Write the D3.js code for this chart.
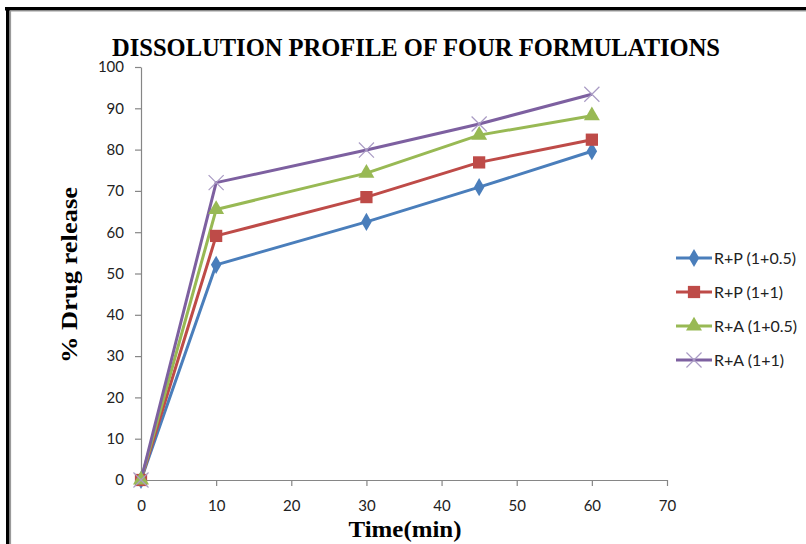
<!DOCTYPE html>
<html>
<head>
<meta charset="utf-8">
<script src="https://cdn.jsdelivr.net/npm/d3@7"></script>
<style>
  body { margin: 0; background: #fff; }
  svg { display: block; }
</style>
</head>
<body>
<div id="chart"></div>
<script>
"use strict";

// data
var times = [0, 10, 30, 45, 60];
var rp05 = [0, 52.1, 62.5, 70.9, 79.6];
var rp1 = [0, 59.1, 68.5, 76.9, 82.4];
var ra05 = [0, 65.5, 74.3, 83.5, 88.2];
var ra1 = [0, 72.0, 79.9, 86.2, 93.4];
var seriesNames = ["R+P (1+0.5)", "R+P (1+1)", "R+A (1+0.5)", "R+A (1+1)"];
var xTicks = [0, 10, 20, 30, 40, 50, 60, 70];
var yTicks = [0, 10, 20, 30, 40, 50, 60, 70, 80, 90, 100];

var colors = ["#4a7ebb", "#be4b48", "#98b954", "#7d60a0"];
var markers = ["diamond", "square", "triangle", "cross"];
var allValues = [rp05, rp1, ra05, ra1];

var series = seriesNames.map(function (name, i) {
        return {
                name: name,
                color: colors[i],
                marker: markers[i],
                points: times.map(function (t, j) { return { t: t, v: allValues[i][j] }; })
        };
});

var W = 806, H = 544;
var margin = { top: 67, left: 141, right: 806 - 667, bottom: 544 - 480 };

var svg = d3.select("#chart")
        .append("svg")
        .attr("width", W)
        .attr("height", H);

// frame (black top/left edge with thin grey inner line)
svg.append("rect").attr("x", 0).attr("y", 0).attr("width", W).attr("height", H).attr("fill", "#fff");
svg.append("rect").attr("x", 5).attr("y", 7).attr("width", W - 5).attr("height", 3.5).attr("fill", "#000");
svg.append("rect").attr("x", 6).attr("y", 7).attr("width", 3.5).attr("height", H - 7).attr("fill", "#000");
svg.append("line").attr("x1", 10.5).attr("x2", W).attr("y1", 11).attr("y2", 11)
        .attr("stroke", "#9a9a9a").attr("stroke-width", 1.2);
svg.append("line").attr("x1", 10.5).attr("x2", 10.5).attr("y1", 11).attr("y2", H)
        .attr("stroke", "#9a9a9a").attr("stroke-width", 1.2);

var x = d3.scaleLinear().domain([0, 70]).range([margin.left, W - margin.right]);
var y = d3.scaleLinear().domain([0, 100]).range([H - margin.bottom, margin.top]);

// title
svg.append("text")
        .attr("x", 112).attr("y", 56)
        .attr("textLength", 608).attr("lengthAdjust", "spacingAndGlyphs")
        .style("font-family", "'Liberation Serif', 'Times New Roman', serif")
        .style("font-weight", "bold")
        .style("font-size", "25px")
        .text("DISSOLUTION PROFILE OF FOUR FORMULATIONS");

// axes
var axisColor = "#868686";
var tickFont = "Lato, 'Open Sans', sans-serif";

var gx = svg.append("g")
        .attr("transform", "translate(0," + y(0) + ")")
        .call(d3.axisBottom(x).tickValues(xTicks).tickSize(6).tickPadding(14).tickSizeOuter(0));
var gy = svg.append("g")
        .attr("transform", "translate(" + x(0) + ",0)")
        .call(d3.axisLeft(y).tickValues(yTicks).tickSize(6).tickPadding(11).tickSizeOuter(0));

[gx, gy].forEach(function (g) {
        g.select(".domain").attr("stroke", axisColor).attr("stroke-width", 1.2);
        g.selectAll(".tick line").attr("stroke", axisColor).attr("stroke-width", 1.2);
        g.selectAll(".tick text")
                .attr("fill", "#222")
                .style("font-family", tickFont)
                .style("font-size", "15px");
});

// axis titles
svg.append("text")
        .attr("transform", "translate(77," + 275 + ")rotate(-90)")
        .attr("text-anchor", "middle")
        .attr("textLength", 176).attr("lengthAdjust", "spacingAndGlyphs")
        .style("font-family", "'Liberation Serif', 'Times New Roman', serif")
        .style("font-weight", "bold")
        .style("font-size", "23px")
        .text("% Drug release");

svg.append("text")
        .attr("x", 405).attr("y", 537)
        .attr("text-anchor", "middle")
        .attr("textLength", 113).attr("lengthAdjust", "spacingAndGlyphs")
        .style("font-family", "'Liberation Serif', 'Times New Roman', serif")
        .style("font-weight", "bold")
        .style("font-size", "23px")
        .text("Time(min)");

// lines
var line = d3.line()
        .x(function (d) { return x(d.t); })
        .y(function (d) { return y(d.v); });

var symbolFor = {
        diamond: d3.symbol().type(d3.symbolDiamond).size(95),
        square: d3.symbol().type(d3.symbolSquare).size(150),
        triangle: d3.symbol().type(d3.symbolTriangle).size(110),
        cross: d3.symbol().type(d3.symbolX).size(150)
};

function drawMarker(g, s) {
        var p = g.append("path").attr("d", symbolFor[s.marker]());
        if (s.marker == "cross") {
                p.attr("fill", "none").attr("stroke", "#a99bc4").attr("stroke-width", 1.2);
        }
        else {
                p.attr("fill", s.color);
        }
        return p;
}

series.forEach(function (s) {
        svg.append("path")
                .datum(s.points)
                .attr("d", line)
                .attr("fill", "none")
                .attr("stroke", s.color)
                .attr("stroke-width", 3)
                .attr("stroke-linejoin", "round");
});

series.forEach(function (s) {
        s.points.forEach(function (d) {
                var g = svg.append("g")
                        .attr("transform", "translate(" + x(d.t) + "," + y(d.v) + ")");
                drawMarker(g, s);
        });
});

// legend
var legend = svg.append("g").attr("transform", "translate(676,258)");
series.forEach(function (s, i) {
        var row = legend.append("g").attr("transform", "translate(0," + (i * 34) + ")");
        row.append("line")
                .attr("x1", 0).attr("x2", 36).attr("y1", 0).attr("y2", 0)
                .attr("stroke", s.color).attr("stroke-width", 3);
        var m = row.append("g").attr("transform", "translate(18,0)");
        drawMarker(m, s);
        row.append("text")
                .attr("x", 38).attr("y", 5.5)
                .style("font-family", tickFont)
                .style("font-size", "16px")
                .attr("fill", "#222")
                .text(s.name);
});
</script>
</body>
</html>
